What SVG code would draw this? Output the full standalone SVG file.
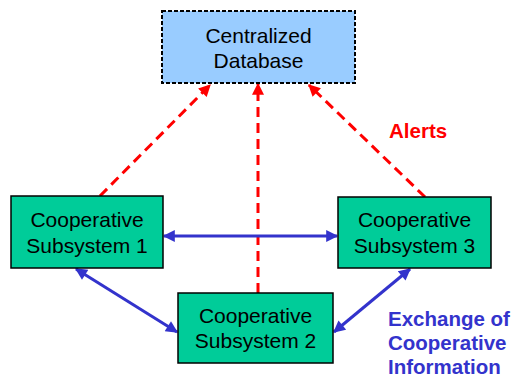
<svg xmlns="http://www.w3.org/2000/svg" width="517" height="379" viewBox="0 0 517 379">
<style>
.node text{font-family:"Liberation Sans",Arial,sans-serif;font-size:21px;fill:#000;text-anchor:middle}
.sub{fill:#00CC99;stroke:#000;stroke-width:1.5}
.db{fill:#99CCFF;stroke:#000;stroke-width:2;stroke-dasharray:4 2}
.alert{stroke:#FF0000;stroke-width:3;stroke-dasharray:10 6;fill:none}
.xchg{stroke:#3333CC;stroke-width:3;fill:none}
.lbl{font-family:"Liberation Sans",Arial,sans-serif;font-size:20.5px;font-weight:bold}
</style>
<defs>
<marker id="ra" viewBox="0 0 10 10" refX="9" refY="5" markerWidth="14" markerHeight="12" markerUnits="userSpaceOnUse" orient="auto"><path d="M0,0 L10,5 L0,10 z" fill="#FF0000"/></marker>
<marker id="ba" viewBox="0 0 10 10" refX="9" refY="5" markerWidth="14" markerHeight="12" markerUnits="userSpaceOnUse" orient="auto-start-reverse"><path d="M0,0 L10,5 L0,10 z" fill="#3333CC"/></marker>
</defs>
<g id="connectors">
<line class="alert" x1="100" y1="196" x2="210" y2="85" marker-end="url(#ra)"/>
<line class="alert" x1="258" y1="293" x2="258" y2="84" marker-end="url(#ra)"/>
<line class="alert" x1="425" y1="197" x2="309" y2="85" marker-end="url(#ra)"/>
<line class="xchg" x1="164" y1="236" x2="337" y2="236" marker-start="url(#ba)" marker-end="url(#ba)"/>
<line class="xchg" x1="76" y1="269" x2="177" y2="332" marker-start="url(#ba)" marker-end="url(#ba)"/>
<line class="xchg" x1="334" y1="332" x2="410" y2="269" marker-start="url(#ba)" marker-end="url(#ba)"/>
</g>
<g id="db" class="node">
<rect class="db" x="162" y="11" width="193" height="72"/>
<text x="258.5" y="43">Centralized</text>
<text x="258.5" y="68">Database</text>
</g>
<g id="sub1" class="node">
<rect class="sub" x="11" y="196" width="152" height="72"/>
<text x="87" y="227">Cooperative</text>
<text x="87" y="253">Subsystem 1</text>
</g>
<g id="sub3" class="node">
<rect class="sub" x="338" y="197" width="153" height="71"/>
<text x="414.5" y="227">Cooperative</text>
<text x="414.5" y="253">Subsystem 3</text>
</g>
<g id="sub2" class="node">
<rect class="sub" x="178" y="293" width="155" height="70"/>
<text x="255.5" y="323">Cooperative</text>
<text x="255.5" y="348">Subsystem 2</text>
</g>
<text class="lbl" x="389" y="138" fill="#FF0000">Alerts</text>
<text class="lbl" x="388" y="326" fill="#3333CC">Exchange of</text>
<text class="lbl" x="388" y="350" fill="#3333CC">Cooperative</text>
<text class="lbl" x="388" y="374" fill="#3333CC">Information</text>
</svg>
